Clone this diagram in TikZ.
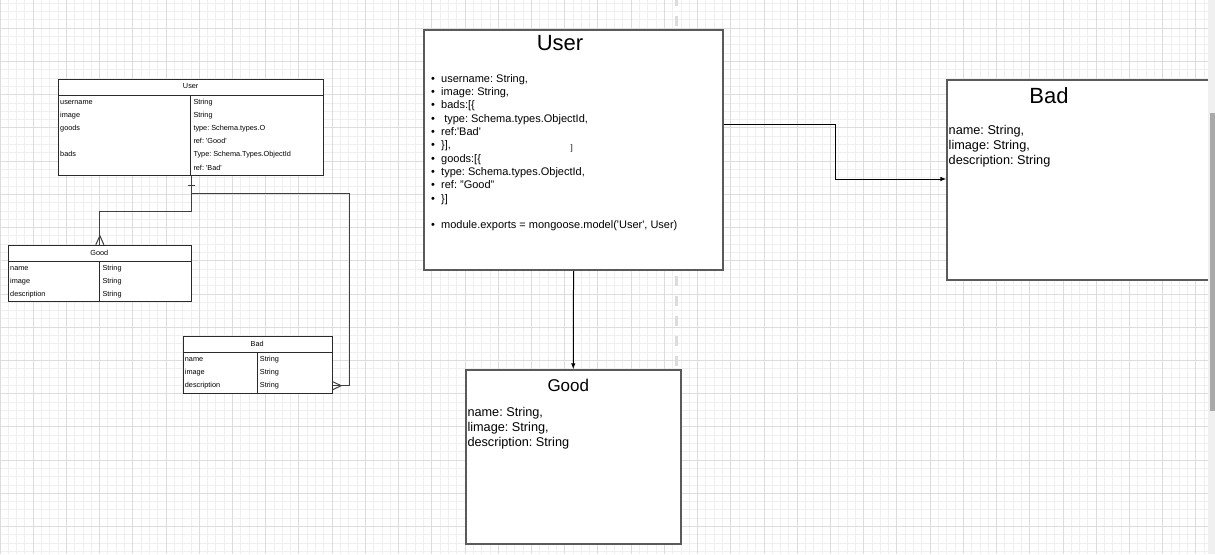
\documentclass[tikz,border=0pt]{standalone}
\usepackage{fontspec}
\setmainfont{Liberation Sans}
\usetikzlibrary{arrows.meta,calc}
\definecolor{minorg}{HTML}{EFEFEF}
\definecolor{majorg}{HTML}{DDDDDD}
\definecolor{boxc}{HTML}{5A5A5A}
\definecolor{tabc}{HTML}{2A2A2A}
\definecolor{dashc}{HTML}{DCDCDC}
\definecolor{stripc}{HTML}{F0F0F0}
\definecolor{thumbc}{HTML}{A9A9A9}
\newcommand\fsz[1]{\fontsize{#1}{#1}\selectfont}
\newcommand\sq{\textquotesingle}
\newcommand\bl{\makebox[10pt][l]{\textbullet}}
\frenchspacing
\begin{document}
\begin{tikzpicture}[x=1pt,y=-1pt,
  bigbox/.style={draw=boxc, line width=1.5pt, fill=white, inner sep=0, anchor=north west},
  tab/.style={draw=tabc, line width=1pt, fill=white, inner sep=0, anchor=north west},
  tabline/.style={draw=tabc, line width=0.8pt},
  cell/.style={anchor=base west, inner sep=0, font=\fsz{7.3}},
  ttl/.style={anchor=center, inner sep=0},
  conn/.style={draw=black!75, line width=1pt},
  arr/.style={draw=black, line width=1pt, -{Latex[length=6pt,width=4.5pt]}},
  bul/.style={anchor=base west, inner sep=0, font=\fsz{11}},
  body/.style={anchor=base west, inner sep=0, font=\fsz{12.7}}]
\useasboundingbox (0,0) rectangle (1215,554);
\fill[white] (0,0) rectangle (1215,554);
% grid
\foreach \i in {0,...,145} \draw[minorg, line width=1pt] (\i*8.305,0) -- (\i*8.305,554);
\foreach \i in {0,...,66} \draw[minorg, line width=1pt] (0,3.38+\i*8.305) -- (1207.7,3.38+\i*8.305);
\foreach \i in {0,...,36} \draw[majorg, line width=1pt] (\i*33.22,0) -- (\i*33.22,554);
\foreach \i in {1,...,16} \draw[majorg, line width=1pt] (0,-4.92+\i*33.22) -- (1207.7,-4.92+\i*33.22);
% dashed separator
\draw[dashc, line width=3pt, dash pattern=on 10pt off 10pt] (676.7,-4) -- (676.7,366);

% ---------- small UML ----------
\node[tab, minimum width=265.3pt, minimum height=96.3pt] (us) at (58,79) {};
\draw[tabline] (58,95) -- (323.3,95);
\draw[tabline] (190.7,95) -- (190.7,175.3);
\node[ttl, font=\fsz{7.3}] (ust) at (190.7,86) {User};
\node[cell] (us1) at (60,104.3) {username};
\node[cell] (us2) at (60,117.5) {image};
\node[cell] (us3) at (60,130.7) {goods};
\node[cell] (us4) at (60,156.9) {bads};
\node[cell] (uv1) at (193.3,104.3) {String};
\node[cell] (uv2) at (193.3,117.5) {String};
\node[cell] (uv3) at (193.3,130.7) {type: Schema.types.O};
\node[cell] (uv4) at (193.3,143.8) {ref: \sq Good\sq};
\node[cell] (uv5) at (193.3,156.9) {Type: Schema.Types.ObjectId};
\node[cell] (uv6) at (193.3,170.1) {ref: \sq Bad\sq};

\node[tab, minimum width=182.7pt, minimum height=56.3pt] (gs) at (8,244.7) {};
\draw[tabline] (8,261.3) -- (190.7,261.3);
\draw[tabline] (99.3,261.3) -- (99.3,301);
\node[ttl, font=\fsz{7.3}] (gst) at (99.3,252.9) {Good};
\node[cell] (gs1) at (10,270.3) {name};
\node[cell] (gs2) at (10,283.3) {image};
\node[cell] (gs3) at (10,296) {description};
\node[cell] (gv1) at (102.3,270.3) {String};
\node[cell] (gv2) at (102.3,283.3) {String};
\node[cell] (gv3) at (102.3,296) {String};

\node[tab, minimum width=149pt, minimum height=56.4pt] (bs) at (182.7,336.3) {};
\draw[tabline] (182.7,352.7) -- (331.7,352.7);
\draw[tabline] (257.3,352.7) -- (257.3,392.7);
\node[ttl, font=\fsz{7.3}] (bst) at (257.2,343.5) {Bad};
\node[cell] (bs1) at (184.7,361.3) {name};
\node[cell] (bs2) at (184.7,374.3) {image};
\node[cell] (bs3) at (184.7,387.9) {description};
\node[cell] (bv1) at (259.7,361.3) {String};
\node[cell] (bv2) at (259.7,374.3) {String};
\node[cell] (bv3) at (259.7,387.9) {String};

% connectors (small UML)
\coordinate (usj) at ($(us.south)+(0,17)$);
\coordinate (bsr) at ($(bs.north east)+(0,49.4)$);
\draw[conn] (us.south) -- ++(0,35) -| (gs.north);
\draw[conn] (usj) -- ++(158.3,0) |- (bsr);
\draw[conn] ($(us.south)+(-3.5,8.7)$) -- ++(7,0);
\draw[conn] ($(gs.north)+(-4,0)$) -- ($(gs.north)+(0,-9)$) -- ($(gs.north)+(4,0)$);
\draw[conn] ($(bsr)+(0,-4)$) -- ($(bsr)+(8.5,0)$) -- ($(bsr)+(0,4)$);

% ---------- big boxes ----------
\node[bigbox, minimum width=299pt, minimum height=240pt] (ub) at (423.3,29.3) {};
\node[ttl, font=\fsz{22}] (ubt) at (560,42.7) {User};
\node[bul] (b1) at (431,82.3) {\bl username: String,};
\node[bul] (b2) at (431,95.6) {\bl image: String,};
\node[bul] (b3) at (431,108.9) {\bl bads:[\{};
\node[bul] (b4) at (431,122.2) {\bl\ type: Schema.types.ObjectId,};
\node[bul] (b5) at (431,135.5) {\bl ref:\sq Bad\sq};
\node[bul] (b6) at (431,148.8) {\bl \}],};
\node[bul] (b7) at (431,162.1) {\bl goods:[\{};
\node[bul] (b8) at (431,175.4) {\bl type: Schema.types.ObjectId,};
\node[bul] (b9) at (431,188.7) {\bl ref: "Good"};
\node[bul] (b10) at (431,202) {\bl \}]};
\node[bul] (b11) at (431,228) {\bl module.exports = mongoose.model(\sq User\sq, User)};
\node[ttl, font=\fsz{8}] (stray) at (571.7,148.3) {]};

\node[bigbox, minimum width=215pt, minimum height=174pt] (gb) at (465,369.3) {};
\node[ttl, font=\fsz{17}] (gbt) at (568.3,385) {Good};
\node[body] (g1) at (467.3,416.3) {name: String,};
\node[body] (g2) at (467.3,431.4) {limage: String,};
\node[body] (g3) at (467.3,446.6) {description: String};

\node[bigbox, minimum width=275pt, minimum height=200pt] (bb) at (946.4,79) {};
\node[ttl, font=\fsz{22}] (bbt) at (1049,96) {Bad};
\node[body] (r1) at (948.5,134.1) {name: String,};
\node[body] (r2) at (948.5,149.3) {limage: String,};
\node[body] (r3) at (948.5,164.6) {description: String};

% arrows (big)
\draw[arr] (ub.south) -- (gb.north);
\draw[arr] ($(ub.north east)+(0,94.7)$) -- ++(111.7,0) |- ($(bb.north west)+(0,100)$);

% scrollbar strip
\fill[stripc] (1207.7,0) rectangle (1215,554);
\fill[thumbc] (1210,112.7) rectangle (1215,411);
\end{tikzpicture}
\end{document}
